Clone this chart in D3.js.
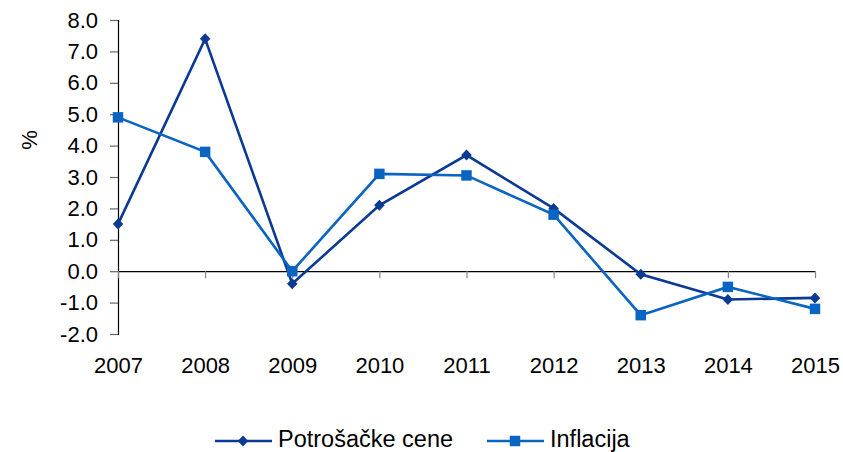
<!DOCTYPE html>
<html>
<head>
<meta charset="utf-8">
<script src="https://cdn.jsdelivr.net/npm/d3@7"></script>
<style>
  body { margin: 0; background: #fff; }
  svg { display: block; font-family: "Liberation Sans", Arial, sans-serif; }
</style>
</head>
<body>
<div id="chart"></div>
<script>
const years = [2007, 2008, 2009, 2010, 2011, 2012, 2013, 2014, 2015];
const potrosacke = [1.5, 7.4, -0.4, 2.1, 3.7, 2.0, -0.1, -0.9, -0.85];
const inflacija = [4.9, 3.8, 0.0, 3.1, 3.05, 1.8, -1.4, -0.5, -1.2];
const yTicks = [-2, -1, 0, 1, 2, 3, 4, 5, 6, 7, 8];

const width = 843, height = 452;
const margin = {top: 20, right: 28, bottom: 118, left: 118};

const svg = d3.select("#chart").append("svg")
  .attr("width", width)
  .attr("height", height);

const x = d3.scalePoint(years, [margin.left, width - margin.right]);
const y = d3.scaleLinear([-2, 8], [height - margin.bottom, margin.top]);

const fmt = d3.format(".1f");

// y axis
const gy = svg.append("g")
  .attr("transform", `translate(${margin.left},0)`)
  .call(d3.axisLeft(y).tickValues(yTicks).tickSize(8).tickPadding(12));
gy.select(".domain").attr("stroke", "#000").attr("stroke-width", 1.2);
gy.selectAll(".tick line").attr("stroke", "#666").attr("stroke-width", 1.2);
gy.selectAll(".tick text").attr("font-size", 22).attr("fill", "#000")
  .text(d => d < 0 ? "-" + fmt(-d) : fmt(d));

// x axis at zero
const gx = svg.append("g")
  .attr("transform", `translate(0,${y(0)})`)
  .call(d3.axisBottom(x).tickSize(7).tickSizeOuter(0).tickFormat(d => d));
gx.select(".domain").attr("stroke", "#000").attr("stroke-width", 1.2);
gx.selectAll(".tick line").attr("stroke", "#888").attr("stroke-width", 1.2);
gx.selectAll(".tick text").attr("font-size", 22).attr("fill", "#000")
  .attr("y", y(-2) - y(0) + 23);

svg.append("text")
  .attr("transform", `translate(37,140) rotate(-90)`)
  .attr("text-anchor", "middle")
  .attr("font-size", 22)
  .text("%");

// wider diamond than d3's default
const diamond = {
  draw(ctx, size) {
    const r = Math.sqrt(size / 2);
    ctx.moveTo(0, -r * 1.05);
    ctx.lineTo(r, 0);
    ctx.lineTo(0, r * 1.05);
    ctx.lineTo(-r, 0);
    ctx.closePath();
  }
};

const series = [
  {name: "Potrošačke cene", values: potrosacke, color: "#0a3a92", shape: diamond, size: 55},
  {name: "Inflacija", values: inflacija, color: "#0a64c2", shape: d3.symbolSquare, size: 110}
];

const line = d3.line().x((d, i) => x(years[i])).y(d => y(d));

series.forEach(s => {
  svg.append("path")
    .attr("d", line(s.values))
    .attr("fill", "none")
    .attr("stroke", s.color)
    .attr("stroke-width", 2.6);
  svg.append("g").selectAll("path")
    .data(s.values)
    .join("path")
    .attr("transform", (d, i) => `translate(${x(years[i])},${y(d)})`)
    .attr("d", d3.symbol(s.shape, s.size))
    .attr("fill", s.color);
});

// legend
const legend = svg.append("g").attr("transform", "translate(0,441)");
const legendX = [215, 487];
series.forEach((s, i) => {
  const g = legend.append("g").attr("transform", `translate(${legendX[i]},0)`);
  g.append("line").attr("x1", 0).attr("x2", 57)
    .attr("stroke", s.color).attr("stroke-width", 2.6);
  g.append("path").attr("transform", "translate(28,0)")
    .attr("d", d3.symbol(s.shape, s.size)).attr("fill", s.color);
  g.append("text").attr("x", 63).attr("y", 6)
    .attr("font-size", 23.5).attr("fill", "#000").text(s.name);
});
</script>
</body>
</html>
